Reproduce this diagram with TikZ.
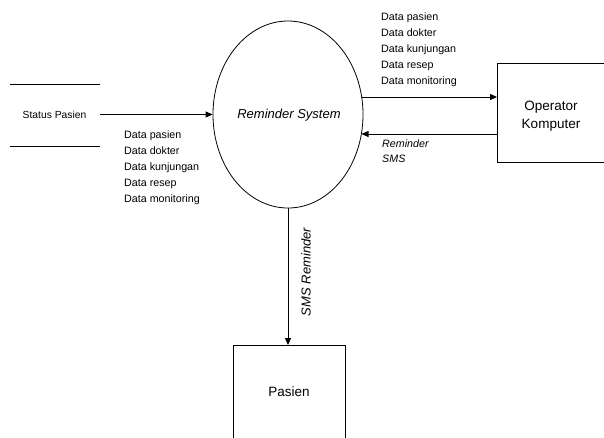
\documentclass[tikz,border=0pt]{standalone}
\usepackage{fontspec}
\setmainfont{Liberation Sans}
\usetikzlibrary{arrows.meta,shapes.geometric,calc}
\begin{document}
\begin{tikzpicture}[x=1pt,y=-1pt,
  every node/.style={inner sep=0pt},
  flow/.style={draw=black,line width=0.8pt,-{Triangle[length=7pt,width=6pt]}},
  lbl/.style={font=\fontsize{10.7}{16}\selectfont,align=left,anchor=west},
  ent/.style={draw=black,line width=0.8pt}]
\useasboundingbox (0,0) rectangle (604,437);
\clip (0,0) rectangle (604,437);
\fill[white] (0,0) rectangle (604,437);
% process
\node[ellipse,draw=black,line width=0.8pt,minimum width=150pt,minimum height=187pt] (sys) at (288,114.5) {};
\node[font=\itshape\fontsize{13}{15}\selectfont] (systxt) at (289,115) {Reminder System};
% entities
\node[ent,minimum width=113pt,minimum height=99pt,anchor=north west] (op) at (497,63) {};
\node[font=\fontsize{13.5}{18}\selectfont,align=center] (optxt) at (551,116) {Operator\\Komputer};
\node[ent,minimum width=112pt,minimum height=100pt,anchor=north west] (pas) at (233,345) {};
\node[font=\fontsize{13.5}{16}\selectfont] (pastxt) at (289,392) {Pasien};
% data store
\coordinate (s1a) at (10,84); \coordinate (s1b) at (100,84);
\coordinate (s2a) at (10,146); \coordinate (s2b) at (100,146);
\draw[line width=0.8pt] (s1a) -- (s1b);
\draw[line width=0.8pt] (s2a) -- (s2b);
\node[font=\fontsize{10.3}{12}\selectfont] (store) at (54.5,115) {Status Pasien};
\coordinate (storeR) at (100,114.5);
% flows
\coordinate (f1a) at ($(sys.center)+(73.5,-17.5)$);
\coordinate (f2b) at ($(sys.center)+(73.5,19.5)$);
\draw[flow] (storeR) -- (sys.west);
\draw[flow] (f1a) -- (op.west |- f1a);
\draw[flow] (op.west |- f2b) -- (f2b);
\draw[flow] (sys.south) -- (sys.south |- pas.north);
% labels
\node[lbl] (l1) at (381,49.5) {Data pasien\\Data dokter\\Data kunjungan\\Data resep\\Data monitoring};
\node[lbl] (l2) at (124,168) {Data pasien\\Data dokter\\Data kunjungan\\Data resep\\Data monitoring};
\node[lbl,font=\itshape\fontsize{10.7}{15}\selectfont] (l3) at (382,151.5) {Reminder\\SMS};
\node[font=\itshape\fontsize{13}{15}\selectfont,rotate=90] (l4) at (306,272) {SMS Reminder};
\end{tikzpicture}
\end{document}
